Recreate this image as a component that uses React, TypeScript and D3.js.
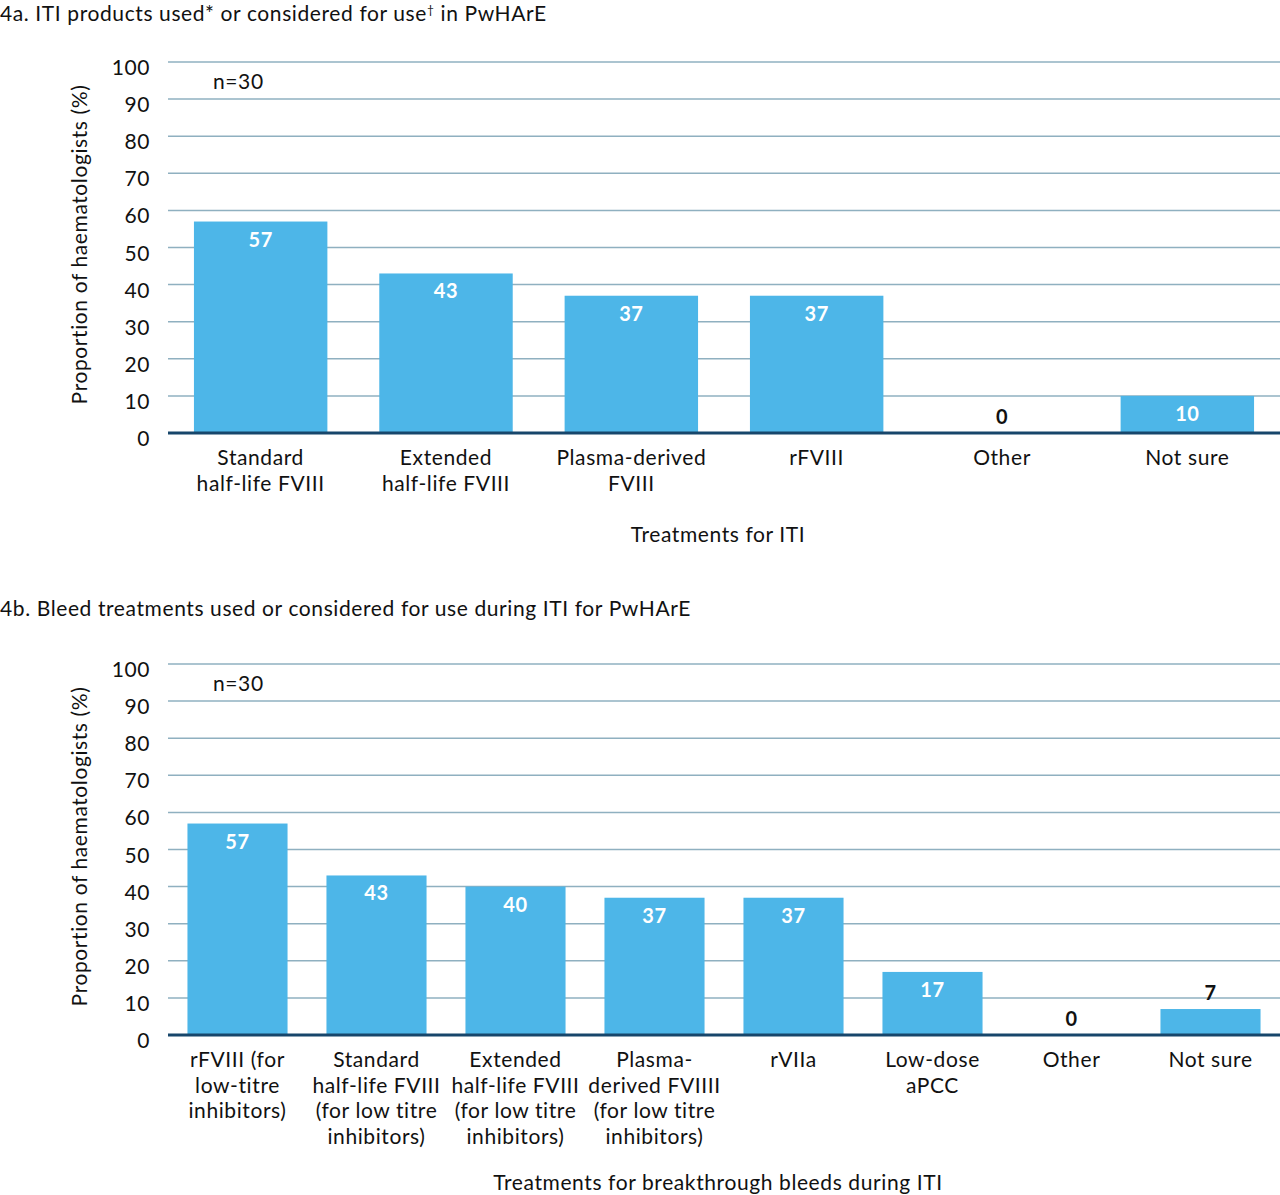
import { useEffect, useRef } from "react";
import * as d3 from "d3";

// ── Data ────────────────────────────────────────────────────────────────────
const titleA = ["4a. ITI products used* or considered for use", "†", " in PwHArE"];
const categoriesA = [
  ["Standard", "half-life FVIII"],
  ["Extended", "half-life FVIII"],
  ["Plasma-derived", "FVIII"],
  ["rFVIII"],
  ["Other"],
  ["Not sure"],
];
const valuesA = [57, 43, 37, 37, 0, 10];

const titleB = ["4b. Bleed treatments used or considered for use during ITI for PwHArE"];
const categoriesB = [
  ["rFVIII (for", "low-titre", "inhibitors)"],
  ["Standard", "half-life FVIII", "(for low titre", "inhibitors)"],
  ["Extended", "half-life FVIII", "(for low titre", "inhibitors)"],
  ["Plasma-", "derived FVIIII", "(for low titre", "inhibitors)"],
  ["rVIIa"],
  ["Low-dose", "aPCC"],
  ["Other"],
  ["Not sure"],
];
const valuesB = [57, 43, 40, 37, 37, 17, 0, 7];

const yTicks = [0, 10, 20, 30, 40, 50, 60, 70, 80, 90, 100];
const yTitle = "Proportion of haematologists (%)";
const nLabel = "n=30";
const xTitleA = "Treatments for ITI";
const xTitleB = "Treatments for breakthrough bleeds during ITI";

const FONT = "Lato, 'Noto Sans', sans-serif";
const FS = 21;
const LS = 0.6;
const BAR = "#4db6e8";
const GRID = "#8fb0c0";
const BASE = "#17466b";

type Panel = {
  title: string[];
  cats: string[][];
  vals: number[];
  xTitle: string;
  top: number; // y of 100
  bottom: number; // y of 0
  titleY: number;
  xTitleY: number;
};

export default function App() {
  const svgRef = useRef<SVGSVGElement>(null);

  useEffect(() => {
    if (!svgRef.current) return;
    const width = 1280;
    const height = 1195;
    const svg = d3.select(svgRef.current);
    svg.attr("width", width).attr("height", height).attr("viewBox", `0 0 ${width} ${height}`);
    svg.selectAll("*").remove();

    const left = 168;
    const right = 1280;

    const panels: Panel[] = [
      { title: titleA, cats: categoriesA, vals: valuesA, xTitle: xTitleA, top: 62, bottom: 433, titleY: 21, xTitleY: 542 },
      { title: titleB, cats: categoriesB, vals: valuesB, xTitle: xTitleB, top: 664, bottom: 1035, titleY: 616, xTitleY: 1190 },
    ];

    panels.forEach((p) => {
      const g = svg
        .append("g")
        .attr("font-family", FONT)
        .attr("letter-spacing", LS);

      // panel title (middle part of 4a is a superscript dagger)
      const t = g
        .append("text")
        .attr("x", 0)
        .attr("y", p.titleY)
        .attr("font-size", FS)
        .attr("fill", "#111");
      p.title.forEach((s, i) => {
        const sp = t.append("tspan").text(s);
        if (i === 1) sp.attr("font-size", 12).attr("dy", -7);
        if (i === 2) sp.attr("dy", 7);
      });

      const x = d3
        .scaleBand<number>()
        .domain(d3.range(p.cats.length))
        .range([left, right])
        .paddingInner(0.28)
        .paddingOuter(0.14);

      const y = d3.scaleLinear().domain([0, 100]).range([p.bottom, p.top]);

      // grid lines
      g.append("g")
        .selectAll("line")
        .data(yTicks.filter((t) => t > 0))
        .enter()
        .append("line")
        .attr("x1", left)
        .attr("x2", right)
        .attr("y1", (d) => y(d))
        .attr("y2", (d) => y(d))
        .attr("stroke", GRID)
        .attr("stroke-width", 1.5);

      // y tick labels
      g.append("g")
        .selectAll("text")
        .data(yTicks)
        .enter()
        .append("text")
        .attr("x", 150)
        .attr("y", (d) => y(d) + 13)
        .attr("text-anchor", "end")
        .attr("font-size", FS)
        .attr("fill", "#111")
        .text((d) => d);

      // y title
      g.append("text")
        .attr("transform", `translate(87,${(p.top + p.bottom) / 2 - 3}) rotate(-90)`)
        .attr("text-anchor", "middle")
        .attr("font-size", FS)
        .attr("fill", "#111")
        .text(yTitle);

      g.append("text")
        .attr("x", 213)
        .attr("y", y(95) + 8)
        .attr("font-size", FS)
        .attr("fill", "#111")
        .text(nLabel);

      // bars
      g.append("g")
        .selectAll("rect")
        .data(p.vals)
        .enter()
        .append("rect")
        .attr("x", (_, i) => x(i)!)
        .attr("width", x.bandwidth())
        .attr("y", (d) => y(d))
        .attr("height", (d) => y(0) - y(d))
        .attr("fill", BAR);

      // value labels
      g.append("g")
        .selectAll("text")
        .data(p.vals)
        .enter()
        .append("text")
        .attr("x", (_, i) => x(i)! + x.bandwidth() / 2)
        .attr("y", (d) => (d >= 10 ? y(d) + 25 : y(d) - 9))
        .attr("text-anchor", "middle")
        .attr("font-size", 20)
        .attr("font-weight", 700)
        .attr("fill", (d) => (d >= 10 ? "#fff" : "#111"))
        .text((d) => d);

      // baseline
      g.append("line")
        .attr("x1", left)
        .attr("x2", right)
        .attr("y1", y(0))
        .attr("y2", y(0))
        .attr("stroke", BASE)
        .attr("stroke-width", 3);

      // category labels
      const cat = g
        .append("g")
        .selectAll("text")
        .data(p.cats)
        .enter()
        .append("text")
        .attr("x", (_, i) => x(i)! + x.bandwidth() / 2)
        .attr("y", y(0) + 32)
        .attr("text-anchor", "middle")
        .attr("font-size", FS)
        .attr("fill", "#111");
      cat
        .selectAll("tspan")
        .data((d) => d)
        .enter()
        .append("tspan")
        .attr("x", function () {
          return (this.parentNode as SVGTextElement).getAttribute("x");
        })
        .attr("dy", (_, i) => (i === 0 ? 0 : 25.7))
        .text((d) => d);

      // x title
      g.append("text")
        .attr("x", (left + right) / 2 - 6)
        .attr("y", p.xTitleY)
        .attr("text-anchor", "middle")
        .attr("font-size", FS)
        .attr("fill", "#111")
        .text(p.xTitle);
    });
  }, []);

  return (
    <div style={{ position: "absolute", left: 0, top: 0, background: "#fff" }}>
      <svg ref={svgRef} style={{ display: "block" }} />
    </div>
  );
}
